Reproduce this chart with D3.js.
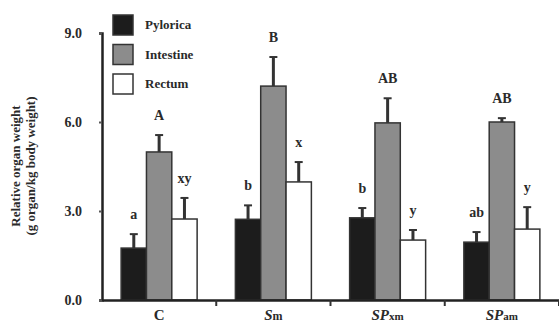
<!DOCTYPE html>
<html><head><meta charset="utf-8">
<script src="https://cdn.jsdelivr.net/npm/d3@7"></script>
<style>body{margin:0;background:#fff;} svg{display:block;} text{font-family:"Liberation Serif","DejaVu Serif",serif !important;font-weight:bold;fill:#2a2a2a;}</style>
</head><body><svg id="c" width="559" height="323"></svg>
<script>
const categories = ["C","Sm","SPxm","SPam"];
const series = ["Pylorica","Intestine","Rectum"];
const pyloric = [1.75, 2.72, 2.77, 1.95];
const pyloricErr = [0.47, 0.47, 0.33, 0.34];
const intestine = [4.99, 7.21, 5.97, 6.0];
const intestineErr = [0.57, 0.98, 0.83, 0.13];
const rectum = [2.73, 3.98, 2.02, 2.39];
const rectumErr = [0.71, 0.67, 0.34, 0.74];
const pyloricLetters = ["a","b","b","ab"];
const intestineLetters = ["A","B","AB","AB"];
const rectumLetters = ["xy","x","y","y"];
const yTicks = [0, 3, 6, 9];
const colors = ["#1c1c1c","#8c8c8c","#ffffff"];

const svg = d3.select("#c");
const y = d3.scaleLinear().domain([0,9]).range([300,33]);
const x = d3.scaleBand().domain(categories).range([102,559]);
const inner = d3.scaleBand().domain(series).range([0,76]);
const off = (x.bandwidth()-76)/2;

const vals = [pyloric, intestine, rectum];
const errs = [pyloricErr, intestineErr, rectumErr];
const letters = [pyloricLetters, intestineLetters, rectumLetters];

const data = [];
categories.forEach((c,i)=>series.forEach((s,j)=>data.push({c,s,j,v:vals[j][i],e:errs[j][i],l:letters[j][i]})));

const g = svg.append("g");
g.selectAll(".err").data(data).join("g").each(function(d){
  const cx = x(d.c)+off+inner(d.s)+inner.bandwidth()/2;
  const sel = d3.select(this);
  sel.append("line").attr("x1",cx).attr("x2",cx).attr("y1",y(d.v)).attr("y2",y(d.v+d.e)).attr("stroke","#333").attr("stroke-width",3);
  sel.append("line").attr("x1",cx-4).attr("x2",cx+4).attr("y1",y(d.v+d.e)).attr("y2",y(d.v+d.e)).attr("stroke","#333").attr("stroke-width",2);
  sel.append("text").attr("x",cx).attr("y",y(d.v+d.e)-15).attr("text-anchor","middle").attr("font-size",14).text(d.l);
});
g.selectAll("rect.bar").data(data).join("rect").attr("class","bar")
  .attr("x",d=>x(d.c)+off+inner(d.s)).attr("width",inner.bandwidth())
  .attr("y",d=>y(d.v)).attr("height",d=>y(0)-y(d.v))
  .attr("fill",d=>colors[d.j]).attr("stroke","#333").attr("stroke-width",1.5);

const ya = svg.append("g").attr("transform","translate(102,0)")
  .call(d3.axisLeft(y).tickValues(yTicks).tickFormat(d3.format(".1f")).tickSize(3).tickPadding(17));
ya.attr("font-family",null).attr("font-size",null);
ya.select(".domain").attr("stroke","#222").attr("stroke-width",2.5);
ya.selectAll(".tick line").attr("stroke","#555").attr("stroke-width",2);
ya.selectAll(".tick text").style("font-size","14px").attr("fill","#333").attr("dy","0.35em");

const xa = svg.append("g").attr("transform","translate(0,300)")
  .call(d3.axisBottom(x).tickSize(0).tickFormat(""));
xa.select(".domain").attr("stroke","#222").attr("stroke-width",2.5);
xa.selectAll(".tick").remove();
svg.append("g").selectAll("line").data(categories).join("line")
  .attr("x1",d=>x(d)+x.bandwidth()).attr("x2",d=>x(d)+x.bandwidth())
  .attr("y1",300).attr("y2",306).attr("stroke","#333").attr("stroke-width",2);
svg.append("g").selectAll("text").data(categories).join("text")
  .attr("x",d=>x(d)+x.bandwidth()/2).attr("y",320).attr("text-anchor","middle").attr("font-size",15)
  .each(function(d){
    const t=d3.select(this);
    if(d.startsWith("SP")){ t.append("tspan").text("SP").attr("font-style","italic"); t.append("tspan").attr("font-size",11).text(d.slice(2)); }
    else if(d==="Sm"){ t.append("tspan").attr("font-style","italic").text("S"); t.append("tspan").attr("font-size",12).text("m"); }
    else t.text(d);
  });

const yl = svg.append("text").attr("transform","translate(20,166) rotate(-90)").attr("text-anchor","middle").attr("font-size",13);
yl.append("tspan").attr("x",0).attr("dy",0).text("Relative organ weight");
yl.append("tspan").attr("x",0).attr("dy",15).text("(g organ/kg body weight)");

const lg = svg.append("g");
series.forEach((s,i)=>{
  lg.append("rect").attr("x",113).attr("y",15+i*29.5).attr("width",20).attr("height",20).attr("fill",colors[i]).attr("stroke","#333").attr("stroke-width",1.5);
  lg.append("text").attr("x",145).attr("y",29+i*29.5).attr("font-size",13).text(s);
});
</script></body></html>
